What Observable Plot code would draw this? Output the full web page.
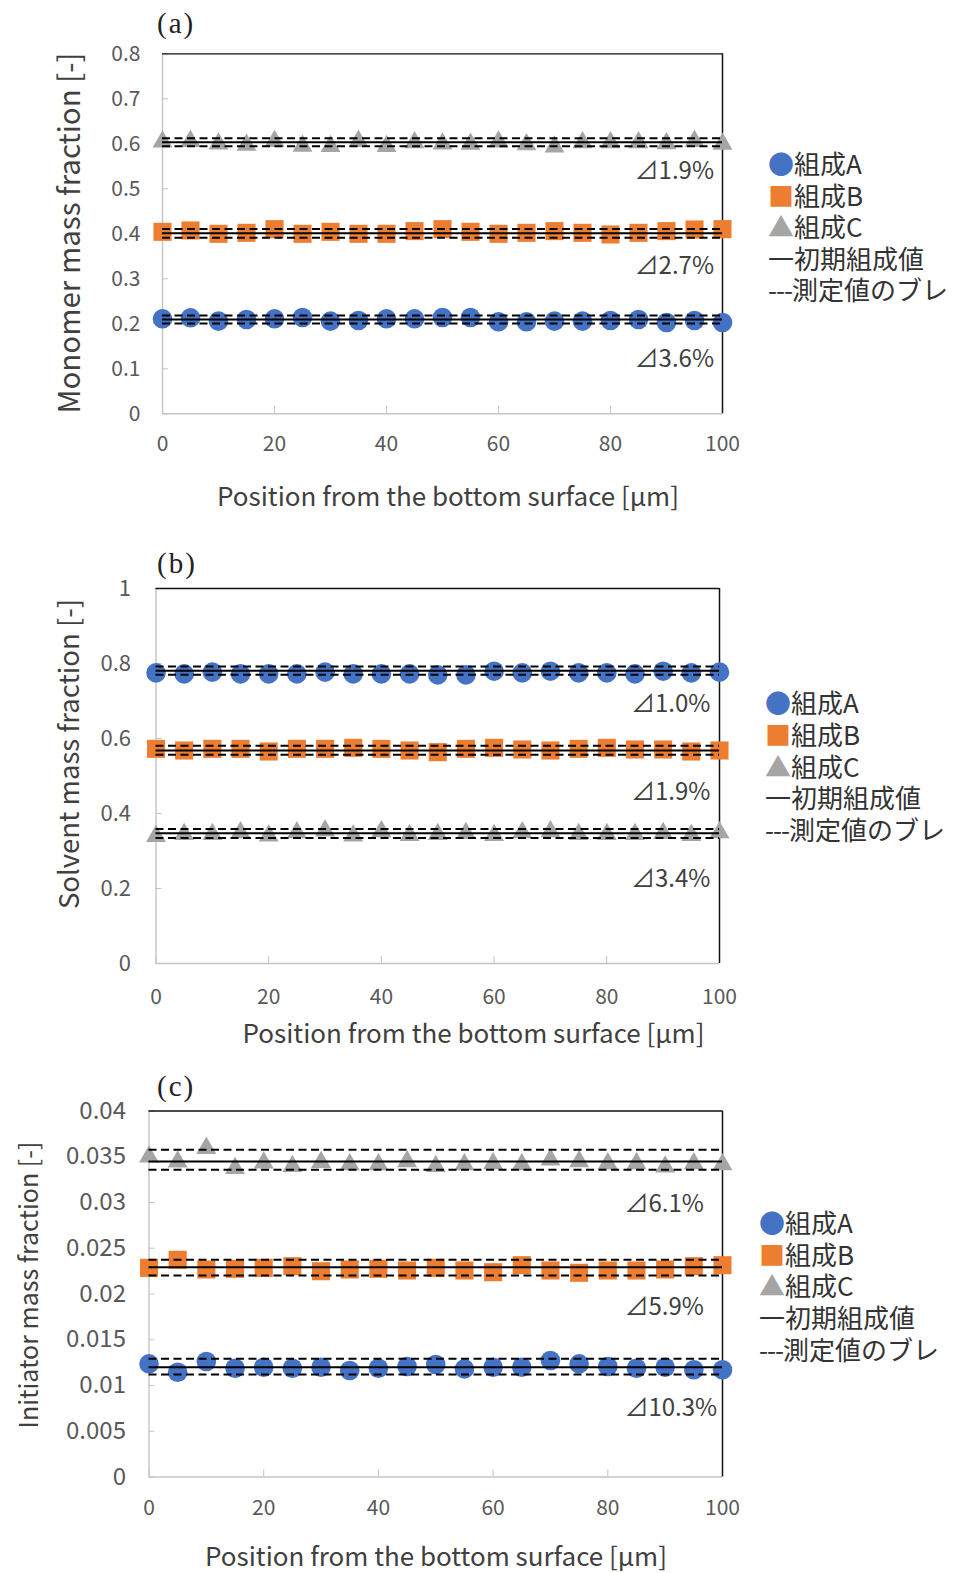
<!DOCTYPE html>
<html><head><meta charset="utf-8">
<script src="https://cdn.jsdelivr.net/npm/d3@7"></script>
<script src="https://cdn.jsdelivr.net/npm/@observablehq/plot@0.6"></script>
<style>
body{margin:0;background:#fff;}
#wrap{position:relative;width:953px;height:1573px;overflow:hidden;font-family:"Noto Sans CJK JP","Noto Sans",sans-serif;}
.abs{position:absolute;white-space:nowrap;}
.ctr{transform:translate(-50%,-50%);}
.ytitle{transform:translate(-50%,-50%) rotate(-90deg);}
.title{color:#404040;line-height:1;}
.plabel{font-family:"Liberation Serif","DejaVu Serif",serif;font-size:29px;color:#222;letter-spacing:2px;line-height:1;}
.legend{font-size:26px;line-height:26px;height:26px;color:#333;transform:translateY(-50%);display:flex;}
.legend span{display:block;line-height:26px;height:26px;}
</style></head><body><div id="wrap"></div>
<script>
// ---- data ----
const positionUm = [0,5,10,15,20,25,30,35,40,45,50,55,60,65,70,75,80,85,90,95,100];
const xTicks = [0,20,40,60,80,100];
const seriesNames = ["組成A","組成B","組成C"];
const legendExtra = ["初期組成値","測定値のブレ"];

// (a) monomer mass fraction
const monomerA = [0.2111,0.2133,0.2059,0.2096,0.2111,0.2140,0.2059,0.2074,0.2111,0.2111,0.2140,0.2140,0.2044,0.2044,0.2059,0.2059,0.2074,0.2096,0.2029,0.2074,0.2029];
const monomerB = [0.4044,0.4074,0.4000,0.4022,0.4103,0.4000,0.4044,0.4000,0.4000,0.4059,0.4103,0.4044,0.4000,0.4022,0.4059,0.4022,0.3985,0.4022,0.4059,0.4096,0.4103];
const monomerC = [0.6110,0.6125,0.6070,0.6040,0.6125,0.6020,0.6010,0.6125,0.6010,0.6095,0.6070,0.6060,0.6110,0.6050,0.6000,0.6096,0.6096,0.6096,0.6074,0.6125,0.6060];
const monomerInit = [0.2096,0.4010,0.6036];
const monomerLow = [0.2007,0.3915,0.5947];
const monomerHigh = [0.2185,0.4105,0.6125];
const monomerDelta = ["⊿3.6%","⊿2.7%","⊿1.9%"];
const monomerDeltaY = [0.1207,0.3278,0.5396];
const monomerTicks = [0,0.1,0.2,0.3,0.4,0.5,0.6,0.7,0.8];

// (b) solvent mass fraction
const solventA = [0.7751,0.7724,0.7769,0.7724,0.7724,0.7724,0.7769,0.7724,0.7724,0.7724,0.7698,0.7698,0.7795,0.7751,0.7795,0.7751,0.7751,0.7724,0.7795,0.7751,0.7769];
const solventB = [0.5724,0.5680,0.5724,0.5724,0.5653,0.5724,0.5724,0.5751,0.5724,0.5680,0.5636,0.5724,0.5751,0.5707,0.5680,0.5724,0.5751,0.5707,0.5707,0.5653,0.5680];
const solventC = [0.3475,0.3529,0.3529,0.3573,0.3484,0.3573,0.3618,0.3484,0.3600,0.3502,0.3529,0.3555,0.3502,0.3573,0.3600,0.3529,0.3529,0.3529,0.3555,0.3502,0.3573];
const solventInit = [0.781,0.568,0.3475];
const solventLow = [0.770,0.557,0.335];
const solventHigh = [0.792,0.581,0.359];
const solventDelta = ["⊿1.0%","⊿1.9%","⊿3.4%"];
const solventDeltaY = [0.6907,0.4576,0.225];
const solventTicks = [0,0.2,0.4,0.6,0.8,1];

// (c) initiator mass fraction
const initiatorA = [0.01237,0.01145,0.01262,0.01189,0.01200,0.01189,0.01200,0.01164,0.01189,0.01208,0.01230,0.01182,0.01200,0.01200,0.01273,0.01237,0.01208,0.01189,0.01200,0.01172,0.01172];
const initiatorB = [0.02286,0.02374,0.02268,0.02275,0.02286,0.02304,0.02249,0.02268,0.02275,0.02257,0.02286,0.02257,0.02238,0.02315,0.02257,0.02232,0.02257,0.02257,0.02268,0.02304,0.02315];
const initiatorC = [0.03532,0.03477,0.03627,0.03408,0.03466,0.03430,0.03473,0.03448,0.03448,0.03481,0.03430,0.03448,0.03459,0.03448,0.03499,0.03481,0.03459,0.03459,0.03423,0.03459,0.03448];
const initiatorInit = [0.0120,0.02293,0.03448];
const initiatorLow = [0.0112,0.02202,0.03357];
const initiatorHigh = [0.01292,0.02374,0.03576];
const initiatorDelta = ["⊿10.3%","⊿5.9%","⊿6.1%"];
const initiatorDeltaY = [0.00756,0.01853,0.02982];
const initiatorTicks = [0,0.005,0.01,0.015,0.02,0.025,0.03,0.035,0.04];

const colors = ["#4472C4","#ED7D31","#A5A5A5"];

// ---- drawing ----
const wrap = document.getElementById("wrap");
const fmt = d3.format("~g");

function addDiv(cls, html, left, top, extra) {
  const d = document.createElement("div");
  d.className = "abs " + cls;
  d.innerHTML = html;
  d.style.left = left + "px";
  d.style.top = top + "px";
  if (extra) Object.assign(d.style, extra);
  wrap.appendChild(d);
  return d;
}

function panel(p) {
  const rows = (vals) => positionUm.map((x, i) => ({x, y: vals[i]}));
  const lines = p.init.map((v, i) => ({v, lo: p.low[i], hi: p.high[i]}));
  const ann = p.delta.map((t, i) => ({t, y: p.deltaY[i]}));
  const chart = Plot.plot({
    width: 953, height: p.height,
    marginLeft: p.ml, marginRight: p.mr, marginTop: p.mt, marginBottom: p.mb,
    style: {background: "transparent", fontFamily: '"Noto Sans CJK JP","Noto Sans",sans-serif', overflow: "visible"},
    x: {domain: [0, 100]},
    y: {domain: [0, p.ymax]},
    marks: [
      Plot.ruleX([0], {y1: 0, y2: p.ymax, stroke: "#c4c4c4", strokeWidth: 1.4}),
      Plot.ruleY([0], {x1: 0, x2: 100, stroke: "#c4c4c4", strokeWidth: 1.4}),
      Plot.axisY({ticks: p.ticks, tickFormat: fmt, tickSize: -6, tickPadding: p.ytp, stroke: "#c4c4c4", fill: "#595959", fontSize: p.yfs, label: null}),
      Plot.axisX({ticks: xTicks, tickFormat: fmt, tickSize: -7, tickPadding: p.xtp, stroke: "#c4c4c4", fill: "#595959", fontSize: 21, label: null}),
      Plot.ruleY([p.ymax], {x1: 0, x2: 100, stroke: "#111", strokeWidth: 1.3}),
      Plot.ruleX([100], {y1: 0, y2: p.ymax, stroke: "#111", strokeWidth: 1.5}),
      Plot.dot(rows(p.A), {x: "x", y: "y", r: 9.8, symbol: "circle", fill: colors[0], stroke: null}),
      Plot.dot(rows(p.B), {x: "x", y: "y", r: 10.2, symbol: "square", fill: colors[1], stroke: null}),
      Plot.dot(rows(p.C), {x: "x", y: "y", r: 7.4, symbol: "triangle", dy: 3, fill: colors[2], stroke: null}),
      Plot.ruleY(lines, {y: "v", x1: 0, x2: 100, stroke: "#000", strokeWidth: 2}),
      Plot.ruleY(lines, {y: "lo", x1: 0, x2: 100, stroke: "#000", strokeWidth: 2, strokeDasharray: "8,4.5"}),
      Plot.ruleY(lines, {y: "hi", x1: 0, x2: 100, stroke: "#000", strokeWidth: 2, strokeDasharray: "8,4.5"}),
      Plot.text(ann, {x: p.annX, y: "y", text: "t", textAnchor: "start", fontSize: 24, fill: "#404040"})
    ]
  });
  const holder = document.createElement("div");
  holder.className = "abs";
  holder.style.left = "0px";
  holder.style.top = p.top + "px";
  holder.appendChild(chart);
  wrap.appendChild(holder);

  addDiv("plabel", p.label, p.labelX, p.labelY, {transform: "translateY(-50%)"});
  addDiv("title ytitle", p.ytitle, p.ytX, p.ytY, {fontSize: p.ytfs + "px"});
  addDiv("title ctr", "Position from the bottom surface [μm]", p.xtX, p.xtY, {fontSize: "26px"});
  const legRows = [
    `<span style="color:${colors[0]}">●</span><span>${seriesNames[0]}</span>`,
    `<span style="color:${colors[1]}">■</span><span>${seriesNames[1]}</span>`,
    `<span style="color:${colors[2]}">▲</span><span>${seriesNames[2]}</span>`,
    `<span>一</span><span>${legendExtra[0]}</span>`,
    `<span style="letter-spacing:-1px">---</span><span>${legendExtra[1]}</span>`
  ];
  legRows.forEach((h, i) => addDiv("legend", h, p.legX, p.legY + i * p.legStep));
}

panel({top: 0, height: 460, ml: 162, mr: 231, mt: 53.3, mb: 46.7, ymax: 0.8, ticks: monomerTicks,
  ytp: 28, xtp: 29, yfs: 21, A: monomerA, B: monomerB, C: monomerC, init: monomerInit, low: monomerLow, high: monomerHigh,
  delta: monomerDelta, deltaY: monomerDeltaY, annX: 84.3,
  label: "(a)", labelX: 157, labelY: 23, ytitle: "Monomer mass fraction [-]", ytX: 68, ytY: 232.6, ytfs: 29.5,
  xtX: 448, xtY: 495, legX: 768, legY: 163, legStep: 31.6});

panel({top: 540, height: 463, ml: 155.5, mr: 234, mt: 48, mb: 40, ymax: 1, ticks: solventTicks,
  ytp: 31, xtp: 33, yfs: 22, A: solventA, B: solventB, C: solventC, init: solventInit, low: solventLow, high: solventHigh,
  delta: solventDelta, deltaY: solventDeltaY, annX: 84.3,
  label: "(b)", labelX: 157, labelY: 563, ytitle: "Solvent mass fraction [-]", ytX: 68, ytY: 754, ytfs: 27.5,
  xtX: 473.5, xtY: 1032, legX: 765, legY: 702, legStep: 31.8});

panel({top: 1060, height: 466.5, ml: 148.5, mr: 231, mt: 50.5, mb: 50, ymax: 0.04, ticks: initiatorTicks,
  ytp: 29, xtp: 30, yfs: 24, A: initiatorA, B: initiatorB, C: initiatorC, init: initiatorInit, low: initiatorLow, high: initiatorHigh,
  delta: initiatorDelta, deltaY: initiatorDeltaY, annX: 82.9,
  label: "(c)", labelX: 157, labelY: 1086, ytitle: "Initiator mass fraction [-]", ytX: 27, ytY: 1285, ytfs: 25,
  xtX: 436, xtY: 1555, legX: 759, legY: 1222, legStep: 31.7});
</script></body></html>
